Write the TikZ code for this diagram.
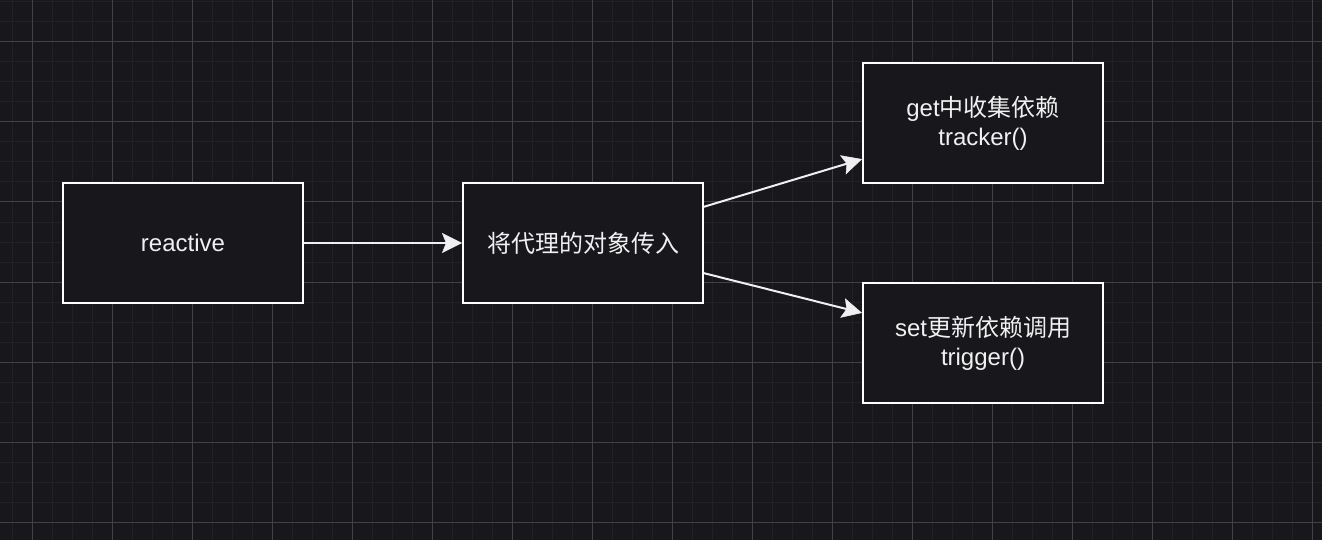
\documentclass[tikz,border=0pt]{standalone}
\usepackage{fontspec}
\setmainfont{Liberation Sans}
\newfontfamily\cjk{Noto Sans CJK SC}
\usetikzlibrary{arrows.meta}

\definecolor{canvas}{HTML}{18171C}
\definecolor{gridminor}{HTML}{222126}
\definecolor{gridmajor}{HTML}{424246}
\definecolor{ink}{HTML}{F0F0F0}

\tikzset{
  block/.style={draw=white, line width=2pt, fill=canvas, text=ink,
    minimum width=240pt, minimum height=120pt, inner sep=0pt,
    align=center, font=\fontsize{24}{29}\selectfont},
  flow/.style={draw=ink, line width=2pt,
    -{Stealth[length=20pt, width=20pt, inset=4pt, fill=ink, line width=0.5pt]}},
}

\begin{document}
\begin{tikzpicture}[x=1pt, y=-1pt]
  % canvas and background grid
  \fill[canvas] (0,0) rectangle (1322,540);
  \useasboundingbox (0,0) rectangle (1322,540);
  \foreach \x in {12,32,...,1322} \draw[gridminor, line width=1pt] (\x,0) -- (\x,540);
  \foreach \y in {2,22,...,540} \draw[gridminor, line width=1pt] (0,\y) -- (1322,\y);
  \foreach \x in {32,112,...,1322} \draw[gridmajor, line width=1pt] (\x,0) -- (\x,540);
  \foreach \y in {42,122,...,540} \draw[gridmajor, line width=1pt] (0,\y) -- (1322,\y);

  % blocks
  \node[block] (reactive) at (183,243) {reactive};
  \node[block] (proxy) at (583,243) {{\cjk 将代理的对象传入}};
  \node[block] (get) at (983,123) {get{\cjk 中收集依赖}\\tracker()};
  \node[block] (set) at (983,343) {set{\cjk 更新依赖调用}\\trigger()};

  % connectors
  \draw[flow] (reactive) -- (proxy);
  \draw[flow] (proxy) -- (get);
  \draw[flow] (proxy) -- (set);
\end{tikzpicture}
\end{document}
